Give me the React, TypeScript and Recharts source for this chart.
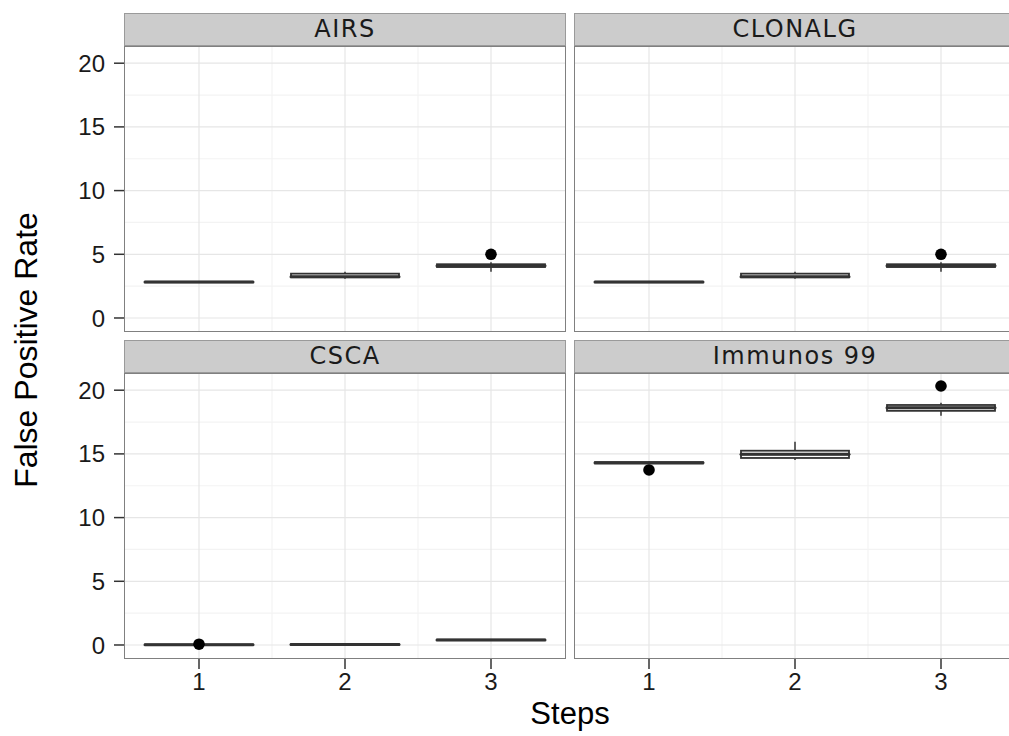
import React from "react";
import { Bar, CartesianGrid, ComposedChart, Line, XAxis, YAxis } from "recharts";

const STEPS = ["1", "2", "3"];
const Y_TICKS = [0, 5, 10, 15, 20];
const Y_MINOR = [2.5, 7.5, 12.5, 17.5];
const X_MAJOR = [1, 2, 3];
const X_MINOR = [1.5, 2.5];
const Y_DOMAIN: [number, number] = [-1.1, 21.35];

// five-number summaries, one entry per step
const AIRS_MIN = [2.78, 3.08, 3.63];
const AIRS_Q1 = [2.8, 3.2, 4.0];
const AIRS_MED = [2.82, 3.24, 4.1];
const AIRS_Q3 = [2.84, 3.48, 4.22];
const AIRS_MAX = [2.86, 3.62, 4.38];
const AIRS_OUT = [null, null, 5.0];

const CLONALG_MIN = [2.78, 3.08, 3.63];
const CLONALG_Q1 = [2.8, 3.2, 4.0];
const CLONALG_MED = [2.82, 3.24, 4.1];
const CLONALG_Q3 = [2.84, 3.48, 4.22];
const CLONALG_MAX = [2.86, 3.62, 4.38];
const CLONALG_OUT = [null, null, 5.0];

const CSCA_MIN = [0.0, 0.02, 0.36];
const CSCA_Q1 = [0.01, 0.03, 0.38];
const CSCA_MED = [0.02, 0.04, 0.4];
const CSCA_Q3 = [0.03, 0.05, 0.42];
const CSCA_MAX = [0.04, 0.06, 0.44];
const CSCA_OUT = [0.06, null, null];

const IMMUNOS_MIN = [14.2, 14.52, 18.0];
const IMMUNOS_Q1 = [14.25, 14.68, 18.38];
const IMMUNOS_MED = [14.3, 14.97, 18.63];
const IMMUNOS_Q3 = [14.35, 15.25, 18.84];
const IMMUNOS_MAX = [14.4, 15.96, 19.02];
const IMMUNOS_OUT = [13.74, null, 20.33];

const LEFT_X = 124;
const RIGHT_X = 574;
const PANEL_W = 442;
const PANEL_H = 286;
const STRIP_H = 33;
const ROW_TOP = [46, 373];
const STROKE = "#333333";
const TICK_FONT = "'Liberation Sans', Arial, sans-serif";

type Row = { step: string; base: number; wLo: number; bLo: number; bHi: number; wHi: number; out: number | null };

function buildRows(min: number[], q1: number[], med: number[], q3: number[], max: number[], out: (number | null)[]): Row[] {
  return STEPS.map((step, i) => ({
    step,
    base: min[i],
    wLo: q1[i] - min[i],
    bLo: med[i] - q1[i],
    bHi: q3[i] - med[i],
    wHi: max[i] - q3[i],
    out: out[i],
  }));
}

const Whisker = (props: any) => {
  const { x, y, width, height } = props;
  if (x == null || y == null) return <g />;
  const cx = x + width / 2;
  return <line x1={cx} x2={cx} y1={y} y2={y + height} stroke={STROKE} strokeWidth={1.5} />;
};

const BoxLow = (props: any) => {
  const { x, y, width, height } = props;
  if (x == null || y == null) return <g />;
  return <rect x={x} y={y} width={width} height={Math.max(height, 0)} fill="#ffffff" stroke={STROKE} strokeWidth={1.8} />;
};

const BoxHigh = (props: any) => {
  const { x, y, width, height } = props;
  if (x == null || y == null) return <g />;
  return (
    <g>
      <rect x={x} y={y} width={width} height={Math.max(height, 0)} fill="#ffffff" stroke={STROKE} strokeWidth={1.8} />
      <line x1={x} x2={x + width} y1={y + height} y2={y + height} stroke={STROKE} strokeWidth={3} strokeLinecap="round" />
    </g>
  );
};

const OutlierDot = (props: any) => {
  const { cx, cy, payload } = props;
  if (payload == null || payload.out == null || cy == null) return <g key={props.key} />;
  return <circle key={props.key} cx={cx} cy={cy} r={5.8} fill="#000000" />;
};

function Panel({ title, data, row, col }: { title: string; data: Row[]; row: number; col: number }) {
  const showY = col === 0;
  const showX = row === 1;
  const top = ROW_TOP[row];
  const panelX = col === 0 ? LEFT_X : RIGHT_X;
  const chartLeft = showY ? 0 : RIGHT_X;
  const chartW = showY ? LEFT_X + PANEL_W : PANEL_W;
  const chartH = PANEL_H + (showX ? 44 : 0);

  return (
    <>
      <div
        style={{
          position: "absolute",
          left: panelX,
          top: top - STRIP_H,
          width: PANEL_W,
          height: STRIP_H,
          boxSizing: "border-box",
          background: "#cccccc",
          border: "1px solid #9a9a9a",
          textAlign: "center",
          lineHeight: `${STRIP_H - 2}px`,
          fontSize: 24,
          letterSpacing: 1.5,
          color: "#1a1a1a",
          fontFamily: "'DejaVu Sans', sans-serif",
        }}
      >
        {title}
      </div>
      <div style={{ position: "absolute", left: chartLeft, top, width: chartW, height: chartH }}>
        <ComposedChart width={chartW} height={chartH} data={data} margin={{ top: 0, right: 0, bottom: 0, left: 0 }}>
          <XAxis
            dataKey="step"
            type="category"
            hide={!showX}
            padding={{ left: 2, right: 2 }}
            height={44}
            axisLine={false}
            tickSize={10}
            tickMargin={4}
            tickLine={{ stroke: STROKE, strokeWidth: 1.5 }}
            tick={{ fontSize: 24, fill: "#1a1a1a", fontFamily: TICK_FONT }}
          />
          <XAxis xAxisId="g" type="number" dataKey="gx" domain={[0.5, 3.5]} allowDataOverflow hide padding={{ left: 2, right: 2 }} />
          <YAxis
            type="number"
            domain={Y_DOMAIN}
            allowDataOverflow
            ticks={Y_TICKS}
            hide={!showY}
            width={LEFT_X}
            axisLine={false}
            tickSize={10}
            tickMargin={9}
            tickLine={{ stroke: STROKE, strokeWidth: 1.5 }}
            tick={{ fontSize: 24, fill: "#1a1a1a", fontFamily: TICK_FONT }}
          />
          <CartesianGrid xAxisId="g" horizontalValues={Y_MINOR} verticalValues={X_MINOR} stroke="#f3f3f3" strokeWidth={1.2} />
          <CartesianGrid xAxisId="g" horizontalValues={Y_TICKS} verticalValues={X_MAJOR} stroke="#e6e6e6" strokeWidth={1.2} />
          <Bar dataKey="base" stackId="b" barSize={108} shape={() => <g />} isAnimationActive={false} />
          <Bar dataKey="wLo" stackId="b" barSize={108} shape={Whisker} isAnimationActive={false} />
          <Bar dataKey="bLo" stackId="b" barSize={108} shape={BoxLow} isAnimationActive={false} />
          <Bar dataKey="bHi" stackId="b" barSize={108} shape={BoxHigh} isAnimationActive={false} />
          <Bar dataKey="wHi" stackId="b" barSize={108} shape={Whisker} isAnimationActive={false} />
          <Line dataKey="out" stroke="none" dot={OutlierDot} activeDot={false} legendType="none" isAnimationActive={false} />
        </ComposedChart>
      </div>
      <div
        style={{
          position: "absolute",
          left: panelX,
          top,
          width: PANEL_W,
          height: PANEL_H,
          boxSizing: "border-box",
          border: "1px solid #808080",
          pointerEvents: "none",
        }}
      />
    </>
  );
}

export default function App() {
  return (
    <div
      style={{
        position: "absolute",
        left: 0,
        top: 0,
        width: 1009,
        height: 736,
        overflow: "hidden",
        background: "#ffffff",
        fontFamily: TICK_FONT,
      }}
    >
      <Panel title="AIRS" row={0} col={0} data={buildRows(AIRS_MIN, AIRS_Q1, AIRS_MED, AIRS_Q3, AIRS_MAX, AIRS_OUT)} />
      <Panel title="CLONALG" row={0} col={1} data={buildRows(CLONALG_MIN, CLONALG_Q1, CLONALG_MED, CLONALG_Q3, CLONALG_MAX, CLONALG_OUT)} />
      <Panel title="CSCA" row={1} col={0} data={buildRows(CSCA_MIN, CSCA_Q1, CSCA_MED, CSCA_Q3, CSCA_MAX, CSCA_OUT)} />
      <Panel title="Immunos 99" row={1} col={1} data={buildRows(IMMUNOS_MIN, IMMUNOS_Q1, IMMUNOS_MED, IMMUNOS_Q3, IMMUNOS_MAX, IMMUNOS_OUT)} />
      <div
        style={{
          position: "absolute",
          left: 26 - 200,
          top: 350 - 20,
          width: 400,
          height: 40,
          lineHeight: "40px",
          textAlign: "center",
          fontSize: 32,
          color: "#000000",
          transform: "rotate(-90deg)",
          whiteSpace: "nowrap",
        }}
      >
        False Positive Rate
      </div>
      <div
        style={{
          position: "absolute",
          left: 470,
          top: 697,
          width: 200,
          lineHeight: "34px",
          textAlign: "center",
          fontSize: 31,
          color: "#000000",
        }}
      >
        Steps
      </div>
    </div>
  );
}
